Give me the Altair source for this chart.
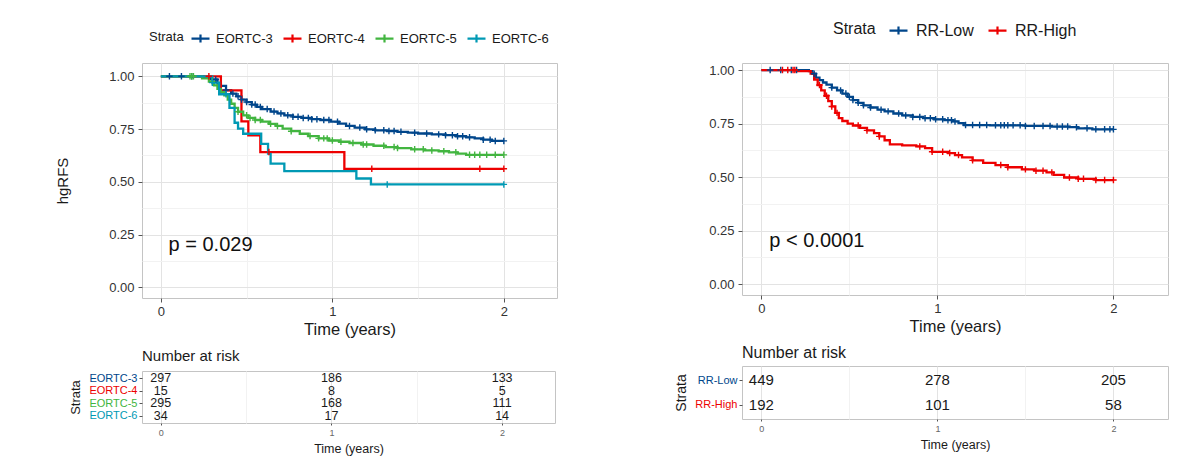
import altair as alt
import pandas as pd

FONT = "Liberation Sans"

# ---------------- data: left panel (EORTC strata) ----------------
eortc_names = ["EORTC-3", "EORTC-4", "EORTC-5", "EORTC-6"]
eortc_colors = ["#00468B", "#ED0000", "#42B540", "#0099B4"]

e3_t = [0, 0.25, 0.29, 0.33, 0.35, 0.38, 0.41, 0.44, 0.47, 0.50, 0.53, 0.56, 0.59, 0.64, 0.68, 0.72,
        0.77, 0.82, 0.88, 0.93, 0.99, 1.04, 1.08, 1.13, 1.19, 1.25, 1.32, 1.38, 1.44, 1.50, 1.58,
        1.66, 1.72, 1.78, 1.83, 1.88, 1.93, 2.0]
e3_s = [1.0, 0.994, 0.985, 0.965, 0.955, 0.935, 0.918, 0.905, 0.89, 0.878, 0.866, 0.855, 0.845, 0.833,
        0.824, 0.815, 0.808, 0.803, 0.797, 0.793, 0.785, 0.776, 0.765, 0.757, 0.749, 0.744, 0.741,
        0.737, 0.733, 0.729, 0.725, 0.721, 0.716, 0.711, 0.706, 0.700, 0.694, 0.694]
e3_cens = [0.05, 0.12, 0.18, 0.32, 0.38, 0.42, 0.45, 0.47, 0.5, 0.53, 0.55, 0.58, 0.62, 0.66, 0.7,
           0.74, 0.77, 0.8, 0.83, 0.86, 0.88, 0.91, 0.95, 0.98, 1.03, 1.1, 1.16, 1.2, 1.25, 1.3, 1.33,
           1.36, 1.4, 1.48, 1.55, 1.62, 1.66, 1.7, 1.73, 1.76, 1.8, 1.88, 1.92, 1.95, 2.0]

e4_t = [0, 0.35, 0.47, 0.51, 0.58, 1.07, 2.0]
e4_s = [1.0, 0.933, 0.787, 0.72, 0.641, 0.562, 0.562]
e4_cens = [0.28, 0.63, 1.23, 1.86, 2.0]

e5_t = [0, 0.24, 0.28, 0.31, 0.33, 0.35, 0.37, 0.39, 0.41, 0.43, 0.45, 0.48, 0.51, 0.55, 0.59, 0.63,
        0.67, 0.71, 0.76, 0.81, 0.86, 0.92, 0.98, 1.04, 1.10, 1.17, 1.24, 1.31, 1.38, 1.46, 1.54,
        1.62, 1.68, 1.73, 1.78, 2.0]
e5_s = [1.0, 0.99, 0.975, 0.957, 0.94, 0.925, 0.91, 0.89, 0.87, 0.85, 0.832, 0.815, 0.803, 0.793,
        0.785, 0.775, 0.765, 0.752, 0.74, 0.728, 0.717, 0.706, 0.696, 0.69, 0.684, 0.677, 0.671,
        0.665, 0.66, 0.654, 0.649, 0.645, 0.64, 0.634, 0.628, 0.628]
e5_cens = [0.17, 0.18, 0.19, 0.3, 0.45, 0.5, 0.52, 0.55, 0.58, 0.64, 0.68, 0.76, 0.87, 0.92, 0.95,
           0.97, 1.0, 1.05, 1.12, 1.18, 1.2, 1.3, 1.36, 1.38, 1.48, 1.53, 1.58, 1.65, 1.72, 1.8,
           1.83, 1.86, 1.9, 1.95, 2.0]

e6_t = [0, 0.30, 0.34, 0.40, 0.43, 0.45, 0.48, 0.585, 0.625, 0.64, 0.72, 1.14, 1.225, 2.0]
e6_s = [1.0, 0.97, 0.915, 0.85, 0.78, 0.752, 0.728, 0.68, 0.634, 0.586, 0.551, 0.516, 0.488, 0.488]
e6_cens = [0.3, 0.38, 1.32, 2.0]

eortc_risk_t0 = [297, 15, 295, 34]
eortc_risk_t1 = [186, 8, 168, 17]
eortc_risk_t2 = [133, 5, 111, 14]
eortc_pval = "p = 0.029"

# ---------------- data: right panel (RR strata) ----------------
rr_names = ["RR-Low", "RR-High"]
rr_colors = ["#00468B", "#ED0000"]

low_t = [0, 0.27, 0.29, 0.31, 0.33, 0.35, 0.37, 0.40, 0.43, 0.46, 0.49, 0.52, 0.55, 0.58, 0.62, 0.66,
         0.70, 0.75, 0.80, 0.86, 0.92, 0.98, 1.04, 1.09, 1.12, 1.15, 1.30, 1.50, 1.65, 1.75, 1.80,
         1.88, 2.0]
low_s = [1.0, 0.995, 0.983, 0.965, 0.953, 0.942, 0.932, 0.918, 0.905, 0.89, 0.875, 0.86, 0.847, 0.835,
         0.825, 0.815, 0.807, 0.797, 0.788, 0.781, 0.775, 0.77, 0.766, 0.76, 0.752, 0.743, 0.742,
         0.739, 0.736, 0.733, 0.728, 0.723, 0.723]
low_cens = [0.05, 0.11, 0.17, 0.2, 0.3, 0.4, 0.45, 0.48, 0.5, 0.52, 0.55, 0.58, 0.62, 0.68, 0.72, 0.78,
            0.82, 0.86, 0.9, 0.93, 0.96, 0.99, 1.03, 1.06, 1.08, 1.1, 1.16, 1.2, 1.24, 1.28, 1.33,
            1.36, 1.38, 1.4, 1.43, 1.47, 1.5, 1.55, 1.6, 1.64, 1.68, 1.71, 1.74, 1.79, 1.85, 1.9,
            1.95, 1.98, 2.0]

high_t = [0, 0.20, 0.28, 0.30, 0.32, 0.34, 0.36, 0.38, 0.40, 0.42, 0.44, 0.46, 0.49, 0.52, 0.56, 0.60,
          0.64, 0.67, 0.70, 0.73, 0.80, 0.88, 0.93, 0.97, 1.06, 1.10, 1.14, 1.20, 1.26, 1.33, 1.40,
          1.48, 1.55, 1.62, 1.66, 1.72, 1.80, 1.90, 2.0]
high_s = [1.0, 0.995, 0.983, 0.955, 0.93, 0.905, 0.88, 0.855, 0.83, 0.80, 0.775, 0.762, 0.75, 0.741,
          0.73, 0.718, 0.705, 0.69, 0.672, 0.653, 0.648, 0.643, 0.635, 0.618, 0.612, 0.603, 0.592,
          0.578, 0.566, 0.556, 0.546, 0.536, 0.53, 0.522, 0.51, 0.498, 0.492, 0.486, 0.486]
high_cens = [0.12, 0.15, 0.18, 0.19, 0.33, 0.37, 0.4, 0.43, 0.55, 0.6, 0.67, 0.9, 0.97, 1.03, 1.07,
             1.12, 1.2, 1.36, 1.4, 1.5, 1.56, 1.6, 1.65, 1.75, 1.8, 1.83, 1.9, 1.95, 2.0]

rr_risk_t0 = [449, 192]
rr_risk_t1 = [278, 101]
rr_risk_t2 = [205, 58]
rr_pval = "p < 0.0001"

risk_times = [0, 1, 2]
x_ticks = [0, 0.5, 1, 1.5, 2]
y_ticks = [0, 0.125, 0.25, 0.375, 0.5, 0.625, 0.75, 0.875, 1.0]

CROSS = "M-1,0L1,0M0,-1L0,1"
LEG_SYMBOL = "M-1,0L1,0M0,-0.45L0,0.45"


def step_at(ts, ss, t):
    v = ss[0]
    for ti, si in zip(ts, ss):
        if ti <= t:
            v = si
        else:
            break
    return v


def km_panel(curves, censors, names, colors, width, height, ydom, pval, ytitle, leg):
    line_df = pd.DataFrame([dict(strata=n, time=t, surv=s)
                            for n in names for t, s in zip(*curves[n])])
    cens_df = pd.DataFrame([dict(strata=n, time=t, surv=step_at(*curves[n], t))
                            for n in names for t in censors[n]])
    p_df = pd.DataFrame({"time": [0.045], "surv": [0.2], "label": [pval]})

    xenc = alt.X("time:Q",
                 scale=alt.Scale(domain=[-0.11, 2.31], nice=False, zero=False),
                 axis=alt.Axis(values=x_ticks,
                               labelExpr="datum.value % 1 === 0 ? format(datum.value, 'd') : ''",
                               title="Time (years)", titleFontSize=16.5, labelFontSize=13,
                               tickSize=4, labelPadding=3, titlePadding=3,
                               gridColor={"condition": {"test": "datum.value % 1 !== 0", "value": "#F2F2F2"},
                                          "value": "#E3E3E3"},
                               tickOpacity={"condition": {"test": "datum.value % 1 !== 0", "value": 0},
                                            "value": 1}))
    yaxis_kw = dict(values=y_ticks,
                    labelExpr="(datum.value * 4) % 1 === 0 ? format(datum.value, '.2f') : ''",
                    labelFontSize=13, tickSize=4, labelPadding=4,
                    gridColor={"condition": {"test": "(datum.value * 4) % 1 !== 0", "value": "#F2F2F2"},
                               "value": "#E3E3E3"},
                    tickOpacity={"condition": {"test": "(datum.value * 4) % 1 !== 0", "value": 0},
                                 "value": 1})
    if ytitle:
        yaxis = alt.Axis(title=ytitle, titleFontSize=15, titlePadding=38, **yaxis_kw)
    else:
        yaxis = alt.Axis(title=None, **yaxis_kw)
    yenc = alt.Y("surv:Q", scale=alt.Scale(domain=ydom, nice=False, zero=False), axis=yaxis)
    cenc = alt.Color("strata:N", sort=names, scale=alt.Scale(domain=names, range=colors), legend=leg)

    lines = alt.Chart(line_df).mark_line(interpolate="step-after", strokeWidth=2.3).encode(
        x=xenc, y=yenc, color=cenc)
    marks = alt.Chart(cens_df).mark_point(shape=CROSS, size=42, strokeWidth=1.4, filled=False,
                                          opacity=1).encode(x=xenc, y=yenc, color=cenc)
    ptext = alt.Chart(p_df).mark_text(align="left", baseline="middle", fontSize=20, font=FONT,
                                      color="#111").encode(x=xenc, y=yenc, text="label:N")
    return alt.layer(lines, marks, ptext).properties(width=width, height=height)


def risk_panel(names, colors, counts, width, height, fs, title_fs, title_offset, lab_fs, strata_fs):
    df = pd.DataFrame([dict(strata=n, time=t, n=counts[j][i])
                       for i, n in enumerate(names) for j, t in enumerate(risk_times)])
    label_color = {"condition": [{"test": f"datum.value === '{n}'", "value": c}
                                 for n, c in zip(names, colors)], "value": "#333"}
    return alt.Chart(df).mark_text(fontSize=fs, font=FONT, color="#1a1a1a", baseline="middle").encode(
        x=alt.X("time:Q", scale=alt.Scale(domain=[-0.11, 2.31], nice=False, zero=False),
                axis=alt.Axis(values=x_ticks,
                              labelExpr="datum.value % 1 === 0 ? format(datum.value, 'd') : ''",
                              title="Time (years)", titleFontSize=12.5, labelFontSize=9,
                              labelColor="#666", tickSize=2, labelPadding=3, titlePadding=5,
                              gridColor={"condition": {"test": "datum.value % 1 !== 0", "value": "#F2F2F2"},
                                         "value": "#E3E3E3"},
                              tickOpacity={"condition": {"test": "datum.value % 1 !== 0", "value": 0},
                                           "value": 1})),
        y=alt.Y("strata:N", sort=names, scale=alt.Scale(type="point", domain=names, padding=0.6),
                axis=alt.Axis(title="Strata", titleFontSize=strata_fs, titlePadding=6,
                              labelFontSize=lab_fs, labelColor=label_color, tickSize=3,
                              labelPadding=2, gridColor="#E3E3E3")),
        text="n:Q",
    ).properties(width=width, height=height,
                 title=alt.Title("Number at risk", anchor="start", frame="group", fontSize=title_fs,
                                 fontWeight="normal", font=FONT, color="#1a1a1a", offset=title_offset))


def legend(x, y, fs, tpad, loff, cpad):
    return alt.Legend(orient="none", legendX=x, legendY=y, direction="horizontal", title="Strata",
                      titleOrient="left", titleFontSize=fs, titleFontWeight="normal", titleFont=FONT,
                      titleColor="#1a1a1a", titlePadding=tpad, titleBaseline="middle",
                      titleAnchor="middle", labelFont=FONT, labelFontSize=fs, labelColor="#1a1a1a",
                      symbolType=LEG_SYMBOL, symbolSize=324, symbolStrokeWidth=2.2,
                      labelOffset=loff, columnPadding=cpad, padding=0)


left_curves = {"EORTC-3": (e3_t, e3_s), "EORTC-4": (e4_t, e4_s),
               "EORTC-5": (e5_t, e5_s), "EORTC-6": (e6_t, e6_s)}
left_cens = {"EORTC-3": e3_cens, "EORTC-4": e4_cens, "EORTC-5": e5_cens, "EORTC-6": e6_cens}
right_curves = {"RR-Low": (low_t, low_s), "RR-High": (high_t, high_s)}
right_cens = {"RR-Low": low_cens, "RR-High": high_cens}

km_left = km_panel(left_curves, left_cens, eortc_names, eortc_colors, 415, 235, [-0.05, 1.063],
                   eortc_pval, "hgRFS", legend(7, -35, 13, 6, 5, 6))
km_right = km_panel(right_curves, right_cens, rr_names, rr_colors, 426, 232, [-0.051, 1.033],
                    rr_pval, None, legend(91, -43, 16, 12, 7, 10))

risk_left = risk_panel(eortc_names, eortc_colors, [eortc_risk_t0, eortc_risk_t1, eortc_risk_t2],
                       413, 52, 12.5, 15, 7, 11, 13)
risk_right = risk_panel(rr_names, rr_colors, [rr_risk_t0, rr_risk_t1, rr_risk_t2],
                        426, 53, 15, 16, 5, 11, 14)

left = alt.vconcat(km_left, risk_left, spacing=10).resolve_scale(
    x="independent", y="independent", color="independent")
right = alt.vconcat(km_right, risk_right, spacing=9).resolve_scale(
    x="independent", y="independent", color="independent")

chart = alt.hconcat(left, right, spacing=116).resolve_scale(
    x="independent", y="independent", color="independent"
).properties(
    padding={"left": 47, "top": 11, "right": 5, "bottom": 5}
).configure(font=FONT).configure_view(
    stroke="#C4C4C4", strokeWidth=1
).configure_axis(
    domain=False, tickColor="#555", labelFont=FONT, titleFont=FONT, titleFontWeight="normal",
    labelColor="#333", titleColor="#1a1a1a", gridWidth=1
)

chart.save("out.html", embed_options={"renderer": "svg", "actions": False})
